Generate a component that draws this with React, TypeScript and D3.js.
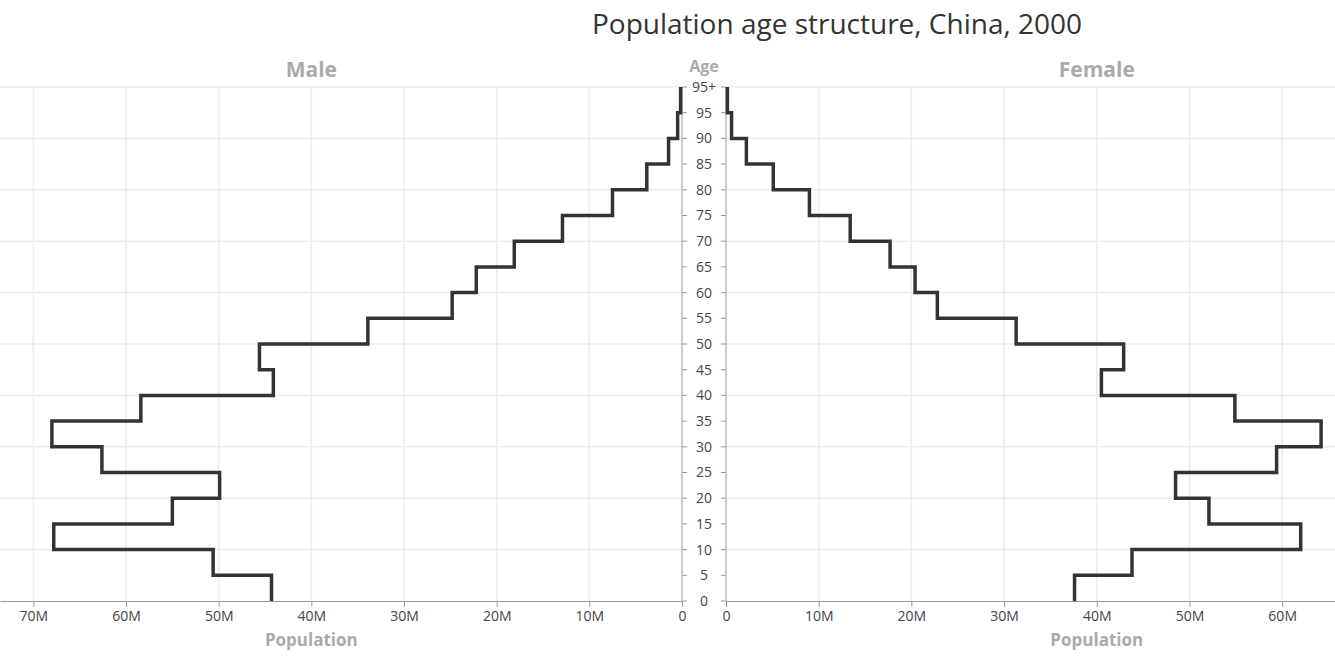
import { useEffect, useRef } from "react";
import * as d3 from "d3";

// age groups: 0-4, 5-9, ... 90-94, 95+
const AGE_STARTS = [0, 5, 10, 15, 20, 25, 30, 35, 40, 45, 50, 55, 60, 65, 70, 75, 80, 85, 90, 95];
const MALE = [44.3, 50.6, 67.8, 55.0, 49.9, 62.6, 68.0, 58.4, 44.1, 45.6, 33.9, 24.8, 22.2, 18.1, 12.9, 7.5, 3.8, 1.45, 0.47, 0.15].map(v => v * 1e6);
const FEMALE = [37.6, 43.8, 62.0, 52.1, 48.5, 59.4, 64.2, 54.9, 40.5, 42.9, 31.3, 22.8, 20.4, 17.7, 13.4, 9.0, 5.1, 2.2, 0.6, 0.15].map(v => v * 1e6);

const AGE_TICKS = [0, 5, 10, 15, 20, 25, 30, 35, 40, 45, 50, 55, 60, 65, 70, 75, 80, 85, 90, 95, 100];
const AGE_LABELS = ["0", "5", "10", "15", "20", "25", "30", "35", "40", "45", "50", "55", "60", "65", "70", "75", "80", "85", "90", "95", "95+"];
const AGE_GRID = [10, 20, 30, 40, 50, 60, 70, 80, 90, 100];
const MALE_TICKS = [0, 10e6, 20e6, 30e6, 40e6, 50e6, 60e6, 70e6];
const FEMALE_TICKS = [0, 10e6, 20e6, 30e6, 40e6, 50e6, 60e6];

const W = 1335;
const H = 656;
const FONT = "'Open Sans', 'Noto Sans', sans-serif";

export default function App() {
  const ref = useRef<SVGSVGElement | null>(null);

  useEffect(() => {
    if (!ref.current) return;
    const svg = d3.select(ref.current);
    svg.selectAll("*").remove();

    const top = 87, bottom = 601;
    const leftEnd = 682, rightStart = 726;
    const y = d3.scaleLinear().domain([0, 100]).range([bottom, top]);
    const xL = d3.scaleLinear().domain([0, 73.6e6]).range([leftEnd, 0]);
    const xR = d3.scaleLinear().domain([0, 65.7e6]).range([rightStart, W]);
    const fmt = (d: number) => (d === 0 ? "0" : `${d / 1e6}M`);

    // grid
    const grid = svg.append("g").attr("stroke", "#ebebeb").attr("stroke-width", 1.5);
    grid.selectAll(".gl").data(MALE_TICKS.slice(1)).join("line")
      .attr("x1", d => xL(d)).attr("x2", d => xL(d)).attr("y1", top).attr("y2", bottom);
    grid.selectAll(".gr").data(FEMALE_TICKS.slice(1)).join("line")
      .attr("class", "gr")
      .attr("x1", d => xR(d)).attr("x2", d => xR(d)).attr("y1", top).attr("y2", bottom);
    grid.selectAll(".hl").data(AGE_GRID).join("line")
      .attr("class", "hl")
      .attr("x1", xL.range()[1]).attr("x2", leftEnd).attr("y1", d => y(d)).attr("y2", d => y(d));
    grid.selectAll(".hr").data(AGE_GRID).join("line")
      .attr("class", "hr")
      .attr("x1", rightStart).attr("x2", W).attr("y1", d => y(d)).attr("y2", d => y(d));

    // bottom axes
    const styleAxis = (g: d3.Selection<SVGGElement, unknown, null, undefined>) => {
      g.attr("font-family", FONT).attr("font-size", 14);
      g.selectAll("path, line").attr("stroke", "#999");
      g.selectAll("text").attr("fill", "#444").attr("y", 10).attr("dy", "0.71em");
    };
    svg.append("g").attr("transform", `translate(0,${bottom})`)
      .call(d3.axisBottom(xL).tickValues(MALE_TICKS).tickFormat(d => fmt(+d)).tickSize(6).tickSizeOuter(0))
      .call(styleAxis);
    svg.append("g").attr("transform", `translate(0,${bottom})`)
      .call(d3.axisBottom(xR).tickValues(FEMALE_TICKS).tickFormat(d => fmt(+d)).tickSize(6).tickSizeOuter(0))
      .call(styleAxis);

    // center age axis
    const cx = (leftEnd + rightStart) / 2;
    const ax = svg.append("g").attr("stroke", "#999").attr("stroke-width", 1);
    ax.append("line").attr("x1", leftEnd).attr("x2", leftEnd).attr("y1", y(100)).attr("y2", y(0));
    ax.append("line").attr("x1", rightStart).attr("x2", rightStart).attr("y1", y(100)).attr("y2", y(0));
    ax.selectAll(".tl").data(AGE_TICKS).join("line").attr("class", "tl")
      .attr("x1", leftEnd).attr("x2", leftEnd + 5).attr("y1", d => y(d)).attr("y2", d => y(d));
    ax.selectAll(".tr").data(AGE_TICKS).join("line").attr("class", "tr")
      .attr("x1", rightStart - 5).attr("x2", rightStart).attr("y1", d => y(d)).attr("y2", d => y(d));
    svg.append("g").selectAll("text").data(AGE_TICKS).join("text")
      .attr("x", cx).attr("y", d => y(d)).attr("dy", "0.35em")
      .attr("text-anchor", "middle").attr("font-family", FONT).attr("font-size", 14).attr("fill", "#444")
      .text((_, i) => AGE_LABELS[i]);

    // step lines
    const line = d3.line<[number, number]>();
    const pts = (vals: number[], x: d3.ScaleLinear<number, number>) =>
      AGE_STARTS.flatMap((a, i) => [[x(vals[i]), y(a)], [x(vals[i]), y(a + 5)]] as [number, number][]);
    [[MALE, xL], [FEMALE, xR]].forEach(([vals, x]) => {
      svg.append("path")
        .attr("d", line(pts(vals as number[], x as d3.ScaleLinear<number, number>)))
        .attr("fill", "none").attr("stroke", "#333").attr("stroke-width", 3.5)
        .attr("stroke-linejoin", "miter");
    });

    // labels
    const label = (x: number, yy: number, t: string, size: number, weight = "bold", fill = "#aaa") =>
      svg.append("text").attr("x", x).attr("y", yy).attr("text-anchor", "middle")
        .attr("font-family", FONT).attr("font-size", size).attr("font-weight", weight)
        .attr("fill", fill).text(t);
    label(837, 34, "Population age structure, China, 2000", 28, "normal", "#333");
    label(xL(40e6), 77, "Male", 21);
    label(xR(40e6), 77, "Female", 21);
    label(cx, 72, "Age", 16);
    label(xL(40e6), 646, "Population", 17);
    label(xR(40e6), 646, "Population", 17);
  }, []);

  return (
    <svg ref={ref} width={W} height={H}
      style={{ position: "absolute", left: 0, top: 0, display: "block" }} />
  );
}
